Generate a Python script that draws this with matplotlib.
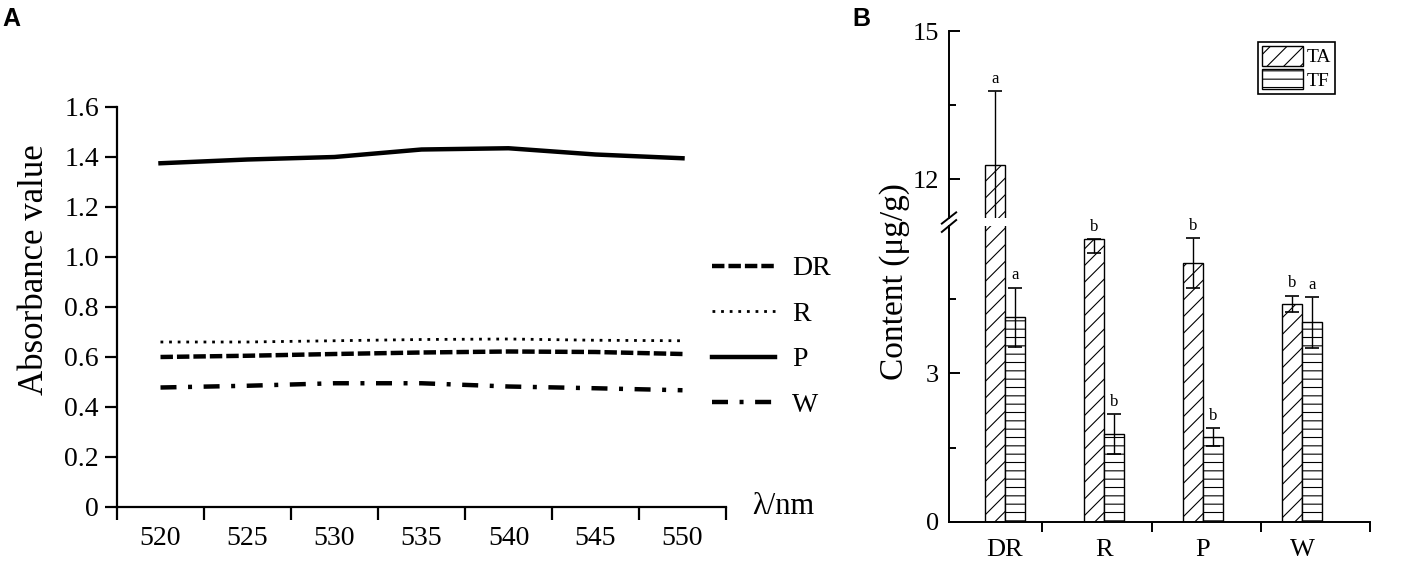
import numpy as np
import matplotlib.pyplot as plt
from matplotlib.patches import Patch

plt.rcParams['font.family'] = ['Liberation Serif', 'DejaVu Serif']
plt.rcParams['hatch.linewidth'] = 0.8

# Panel A: absorbance spectra
wavelength = [520, 525, 530, 535, 540, 545, 550]
absorb_DR = [0.600, 0.605, 0.612, 0.618, 0.622, 0.620, 0.612]
absorb_R = [0.660, 0.660, 0.665, 0.670, 0.672, 0.667, 0.665]
absorb_P = [1.375, 1.390, 1.400, 1.430, 1.435, 1.410, 1.395]
absorb_W = [0.478, 0.485, 0.495, 0.495, 0.482, 0.475, 0.467]

# Panel B: contents
groups = ['DR', 'R', 'P', 'W']
ta_mean = [12.28, 5.69, 5.21, 4.39]
ta_err_low = [1.50, 0.28, 0.50, 0.17]
ta_err_up = [1.50, 0.00, 0.50, 0.17]
tf_mean = [4.12, 1.77, 1.71, 4.02]
tf_err = [0.60, 0.40, 0.18, 0.51]
ta_sig = ['a', 'b', 'b', 'b']
tf_sig = ['a', 'b', 'b', 'a']

W, H = 1427, 561
fig = plt.figure(figsize=(W / 100, H / 100), dpi=100)


def px_axes(x0, y0, x1, y1):
    # pixel box (top-left origin) -> axes
    return fig.add_axes([x0 / W, 1 - y1 / H, (x1 - x0) / W, (y1 - y0) / H])


# ---------------- Panel A ----------------
axA = px_axes(117, 107, 726, 507)
lA_dr, = axA.plot(wavelength, absorb_DR, color='black', lw=3.2,
                  linestyle=(0, (2.8, 0.9)), label='DR')
lA_r, = axA.plot(wavelength, absorb_R, color='black', lw=2.0,
                 linestyle=(0, (1, 2.1)), label='R')
lA_p, = axA.plot(wavelength, absorb_P, color='black', lw=3.2,
                 linestyle='-', label='P')
lA_w, = axA.plot(wavelength, absorb_W, color='black', lw=3.2,
                 linestyle=(0, (3.6, 2.6, 0.9, 2.6)), label='W')

axA.set_xlim(517.5, 552.5)
axA.set_ylim(0, 1.6)
for s in ['top', 'right']:
    axA.spines[s].set_visible(False)
for s in ['left', 'bottom']:
    axA.spines[s].set_linewidth(1.6)

axA.set_xticks(np.arange(517.5, 553, 5))
axA.set_xticklabels([])
axA.set_xticks(wavelength, minor=True)
axA.set_xticklabels([str(w) for w in wavelength], minor=True)
axA.tick_params(axis='x', which='major', direction='out', length=9, width=1.6)
axA.tick_params(axis='x', which='minor', length=0, pad=14, labelsize=20)
yt = np.arange(0, 1.61, 0.2)
axA.set_yticks(yt)
axA.set_yticklabels(['0'] + ['%.1f' % v for v in yt[1:]])
axA.tick_params(axis='y', direction='out', length=9, width=1.6, pad=4, labelsize=20)

axA.text(1.043, 0.0, 'λ/nm', transform=axA.transAxes, fontsize=22,
         ha='left', va='center')
fig.text(35 / W, 1 - 270 / H, 'Absorbance value', rotation=90, fontsize=25,
         ha='center', va='center')
axA.legend(handles=[lA_dr, lA_r, lA_p, lA_w], loc='upper left',
           bbox_to_anchor=(712 / W, 1 - 256 / H), bbox_transform=fig.transFigure,
           frameon=False, fontsize=20, handlelength=2.27, labelspacing=0.72,
           handletextpad=0.6, borderpad=0, borderaxespad=0)

fig.text(2 / W, 1 - 7 / H, 'A', fontsize=18, fontweight='bold',
         family='Liberation Sans', ha='left', va='top')

# ---------------- Panel B ----------------
axT = px_axes(949, 31, 1370, 218)
axB = px_axes(949, 226, 1370, 522)
x = np.arange(len(groups))
bw = 0.2

for ax in (axT, axB):
    ax.bar(x - bw / 2, ta_mean, bw, color='white', edgecolor='black', lw=1,
           hatch='//')
    ax.bar(x + bw / 2, tf_mean, bw, color='white', edgecolor='black', lw=1,
           hatch='--')
    ax.errorbar(x - bw / 2, ta_mean, yerr=[ta_err_low, ta_err_up], fmt='none',
                ecolor='black', elinewidth=1, capsize=5, capthick=1.2)
    ax.errorbar(x + bw / 2, tf_mean, yerr=tf_err, fmt='none',
                ecolor='black', elinewidth=1, capsize=5, capthick=1.2)
    ax.set_xlim(-0.566, 3.687)
    for s in ['top', 'right']:
        ax.spines[s].set_visible(False)
    ax.spines['left'].set_linewidth(1.4)

axT.set_ylim(11.21, 15)
axB.set_ylim(0, 5.96)
axT.spines['bottom'].set_visible(False)
axB.spines['bottom'].set_linewidth(1.4)

axT.set_xticks([])
axT.set_yticks([12, 15])
axT.set_yticks([13.5], minor=True)
axB.set_yticks([0, 3])
axB.set_yticks([1.5, 4.5], minor=True)
for ax in (axT, axB):
    ax.tick_params(axis='y', which='major', direction='in', length=8, width=1.4,
                   pad=7, labelsize=19)
    ax.tick_params(axis='y', which='minor', direction='in', length=5, width=1.4)

axB.set_xticks(x)
axB.set_xticklabels(groups)
axB.set_xticks([0.374, 1.485, 2.586, 3.687], minor=True)
axB.tick_params(axis='x', which='major', length=0, pad=12, labelsize=19)
axB.tick_params(axis='x', which='minor', direction='out', length=7, width=1.4)

# significance letters
for i in range(len(groups)):
    top = ta_mean[i] + ta_err_up[i]
    ax = axT if top > 11.21 else axB
    ax.annotate(ta_sig[i], (x[i] - bw / 2, top), xytext=(0, 3),
                textcoords='offset points', ha='center', va='bottom',
                fontsize=12, annotation_clip=False)
    top = tf_mean[i] + tf_err[i]
    axB.annotate(tf_sig[i], (x[i] + bw / 2, top), xytext=(0, 3),
                 textcoords='offset points', ha='center', va='bottom',
                 fontsize=12, annotation_clip=False)

# axis break marks
dx = 0.017
axT.plot([-dx, dx], [-0.03, 0.03], transform=axT.transAxes, color='black',
         lw=1.4, clip_on=False)
axB.plot([-dx, dx], [1 - 0.02, 1 + 0.02], transform=axB.transAxes, color='black',
         lw=1.4, clip_on=False)

fig.text(895 / W, 1 - 282 / H, 'Content (μg/g)', rotation=90, fontsize=24,
         ha='center', va='center')

leg_handles = [Patch(facecolor='white', edgecolor='black', hatch='//', label='TA'),
               Patch(facecolor='white', edgecolor='black', hatch='--', label='TF')]
legB = axT.legend(handles=leg_handles, loc='upper left',
                  bbox_to_anchor=(1258 / W, 1 - 42 / H),
                  bbox_transform=fig.transFigure, fontsize=14, fancybox=False,
                  edgecolor='black', framealpha=1, handlelength=2.1,
                  handleheight=1.2, borderpad=0.2, labelspacing=0.15,
                  handletextpad=0.2, borderaxespad=0)
legB.get_frame().set_linewidth(1.2)

fig.text(852 / W, 1 - 7 / H, 'B', fontsize=18, fontweight='bold',
         family='Liberation Sans', ha='left', va='top')

fig.savefig('out.png', dpi=100)
